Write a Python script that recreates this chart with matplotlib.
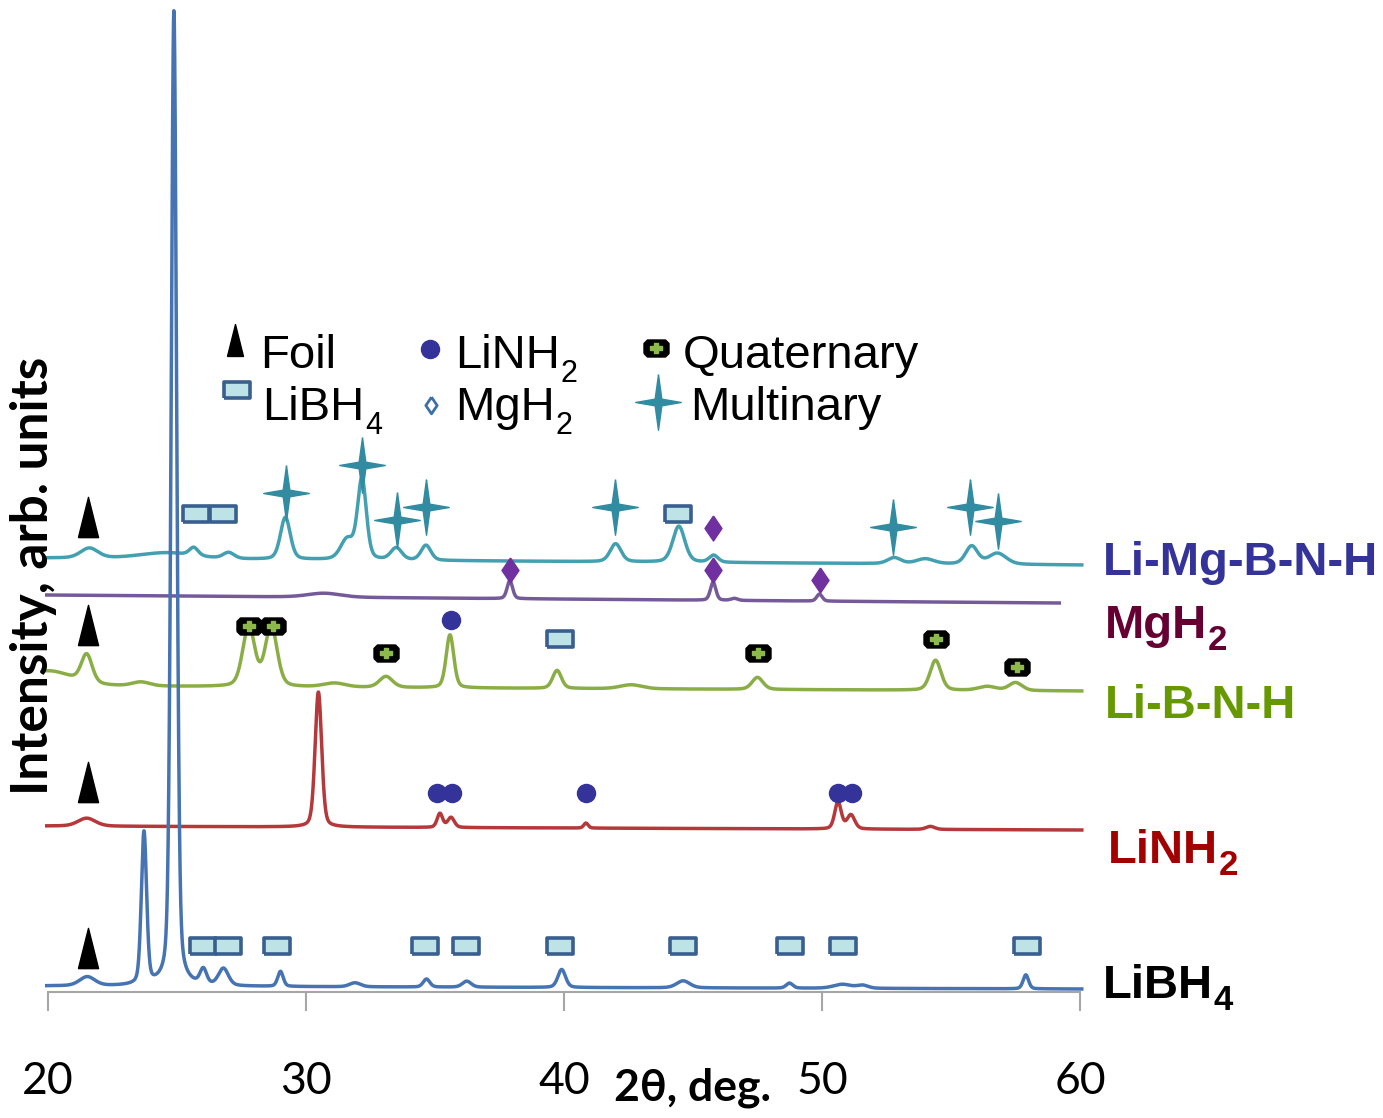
import numpy as np
import matplotlib.pyplot as plt
from matplotlib.path import Path

# ---- scans: baseline (start, end) and peak tables (2theta, height, fwhm) ----
libh4_base = (6, 3)
libh4_pos = [21.52, 23.72, 24.88, 26.02, 26.8, 29.01, 31.9, 34.67, 36.23, 39.91, 44.62, 48.74, 50.79, 51.57, 57.9]
libh4_amp = [9, 152, 975, 15, 17, 15, 4, 8, 6, 18, 7, 5, 4, 3, 14]
libh4_w = [0.7, 0.24, 0.25, 0.3, 0.45, 0.25, 0.5, 0.3, 0.4, 0.35, 0.6, 0.3, 0.8, 0.5, 0.25]

linh2_base = (166, 162)
linh2_pos = [21.5, 30.48, 35.19, 35.62, 40.85, 50.62, 51.12, 54.2]
linh2_amp = [8, 135, 14, 10, 5, 27, 14, 3]
linh2_w = [0.8, 0.3, 0.25, 0.3, 0.2, 0.3, 0.35, 0.4]

libnh_base = (306, 301)
libnh_pos = [20.0, 21.5, 23.6, 27.78, 28.65, 31.1, 33.1, 35.58, 39.73, 42.6, 47.5, 54.4, 56.4, 57.5]
libnh_amp = [15, 28, 4, 60, 60, 4, 11, 53, 18, 4, 12, 30, 4, 8]
libnh_w = [2.2, 0.5, 0.8, 0.55, 0.55, 1.0, 0.6, 0.35, 0.4, 1.0, 0.5, 0.5, 0.8, 0.6]

mgh2_base = (397, 389)
mgh2_end = 59.2
mgh2_pos = [30.7, 37.9, 45.78, 46.6, 49.9]
mgh2_amp = [4, 18, 18, 2, 7]
mgh2_w = [1.5, 0.25, 0.25, 0.3, 0.25]

limg_base = (434, 427)
limg_pos = [21.6, 24.6, 25.65, 27.0, 29.2, 31.6, 32.17, 33.5, 34.65, 42.0, 44.45, 45.8, 52.8, 54.0, 55.8, 56.8]
limg_amp = [10, 6, 8, 6, 42, 20, 80, 12, 15, 18, 36, 7, 6, 5, 18, 11]
limg_w = [0.8, 2.5, 0.4, 0.5, 0.45, 0.6, 0.4, 0.5, 0.45, 0.5, 0.55, 0.4, 0.6, 0.8, 0.55, 0.8]

# ---- phase markers (2theta, height) ----
foil_x = [21.55, 21.55, 21.55, 21.55]
foil_y = [475, 367, 210, 44]
rect_x = [25.74, 26.78, 44.42, 39.84, 26.0, 26.97, 28.88, 34.61, 36.2, 39.84, 44.61, 48.76, 50.81, 57.95]
rect_y = [478, 478, 478, 353, 46, 46, 46, 46, 46, 46, 46, 46, 46, 46]
circ_x = [35.62, 35.06, 35.66, 40.85, 50.62, 51.16]
circ_y = [372, 199, 199, 199, 199, 199]
quat_x = [27.79, 28.72, 33.1, 47.52, 54.42, 57.56]
quat_y = [366, 366, 339, 339, 353, 325]
star_x = [29.22, 32.17, 33.53, 34.65, 41.98, 52.75, 55.74, 56.82]
star_y = [499, 527, 472, 485, 485, 465, 485, 471]
diam_x = [37.91, 45.78, 45.78, 49.92]
diam_y = [422, 422, 464, 412]


def scan(x, base, pos, amp, w, eta=0.3):
    y = base[0] + (base[1] - base[0]) * (x - x[0]) / (x[-1] - x[0])
    for p, a, f in zip(pos, amp, w):
        g = np.exp(-4 * np.log(2) * ((x - p) / f) ** 2)
        l = 1 / (1 + (2 * (x - p) / f) ** 2)
        y = y + a * ((1 - eta) * g + eta * l)
    return y


x = np.linspace(19.95, 60.07, 8000)
x_mg = x[x <= mgh2_end]

# marker shapes
tri = Path([(-0.25, -0.5), (0.25, -0.5), (0, 0.5), (-0.25, -0.5)])
box = Path([(-0.5, -0.32), (0.5, -0.32), (0.5, 0.32), (-0.5, 0.32), (-0.5, -0.32)])
dia = Path([(0, 0.5), (0.34, 0), (0, -0.5), (-0.34, 0), (0, 0.5)])
star = Path([(0, 0.5), (0.06, 0.06), (0.41, 0), (0.06, -0.06), (0, -0.5),
             (-0.06, -0.06), (-0.41, 0), (-0.06, 0.06), (0, 0.5)])
octo = Path([(-0.5, -0.2), (-0.5, 0.2), (-0.36, 0.34), (0.36, 0.34), (0.5, 0.2),
             (0.5, -0.2), (0.36, -0.34), (-0.36, -0.34), (-0.5, -0.2)])
plus = Path([(-0.5, -0.13), (-0.15, -0.13), (-0.15, -0.4), (0.15, -0.4), (0.15, -0.13),
             (0.5, -0.13), (0.5, 0.13), (0.15, 0.13), (0.15, 0.4), (-0.15, 0.4),
             (-0.15, 0.13), (-0.5, 0.13), (-0.5, -0.13)])

c_libh4 = '#4673B1'
c_linh2 = '#B5383A'
c_libnh = '#8AAE45'
c_mgh2 = '#755A99'
c_limg = '#43A0B0'
c_star = '#318BA1'
c_rect_e = '#3A5F8F'
c_rect_f = '#BDE3E6'

fig = plt.figure(figsize=(13.83, 11.18), dpi=100)
ax = fig.add_axes([48 / 1383, 126 / 1118, 1032 / 1383, 992 / 1118])
ax.set_xlim(20, 60)
ax.set_ylim(0, 992)
renderer = fig.canvas.get_renderer()


def sub_text(x0, y0, main, sub, size, subsize, drop, **kw):
    # main text plus a lowered subscript placed right after it
    t = ax.text(x0, y0, main, fontsize=size, va='baseline', ha='left', clip_on=False, **kw)
    bb = t.get_window_extent(renderer)
    xr = ax.transData.inverted().transform((bb.x1, 0))[0]
    ax.annotate(sub, (xr, y0), xytext=(0.5, -drop * 0.72), textcoords='offset points',
                fontsize=subsize, va='baseline', ha='left', annotation_clip=False, **kw)


lw = 2.5
ax.plot(x, scan(x, limg_base, limg_pos, limg_amp, limg_w), color=c_limg, lw=lw, clip_on=False, zorder=2)
ax.plot(x_mg, scan(x_mg, mgh2_base, mgh2_pos, mgh2_amp, mgh2_w), color=c_mgh2, lw=lw, clip_on=False, zorder=2)
ax.plot(x, scan(x, libnh_base, libnh_pos, libnh_amp, libnh_w), color=c_libnh, lw=lw, clip_on=False, zorder=2)
ax.plot(x, scan(x, linh2_base, linh2_pos, linh2_amp, linh2_w), color=c_linh2, lw=lw, clip_on=False, zorder=2)
ax.plot(x, scan(x, libh4_base, libh4_pos, libh4_amp, libh4_w), color=c_libh4, lw=lw, clip_on=False, zorder=3)

# phase markers
ax.plot(foil_x, foil_y, ls='none', marker=tri, ms=29, color='black', zorder=5)
ax.plot(rect_x, rect_y, ls='none', marker=box, ms=19, mfc=c_rect_f, mec=c_rect_e, mew=2.6, zorder=5)
ax.plot(circ_x, circ_y, ls='none', marker='o', ms=13, color='#333399', zorder=5)
ax.plot(quat_x, quat_y, ls='none', marker=octo, ms=18, color='black', zorder=5)
ax.plot(quat_x, quat_y, ls='none', marker=plus, ms=9, color='#8DB84A', zorder=6)
ax.plot(star_x, star_y, ls='none', marker=star, ms=40, color=c_star, zorder=5)
ax.plot(diam_x, diam_y, ls='none', marker=dia, ms=18, color='#7030A0', zorder=5)

# legend block
lf = dict(family='Liberation Sans')
ax.plot([27.25], [652], marker=tri, ms=23, color='black', clip_on=False)
ax.text(28.22, 624, 'Foil', fontsize=34, va='baseline', **lf)
ax.plot([34.8], [643], marker='o', ms=13, color='#333399', clip_on=False)
sub_text(35.78, 624, 'LiNH', '2', 34, 22, 14, **lf)
ax.plot([43.57], [644], marker=octo, ms=18, color='black', clip_on=False)
ax.plot([43.57], [644], marker=plus, ms=9, color='#8DB84A', clip_on=False)
ax.text(44.61, 624, 'Quaternary', fontsize=34, va='baseline', **lf)
ax.plot([27.33], [602], marker=box, ms=19, mfc=c_rect_f, mec=c_rect_e, mew=2.6, clip_on=False)
sub_text(28.3, 572, 'LiBH', '4', 34, 22, 14, **lf)
ax.plot([34.84], [587], marker=dia, ms=12, mfc='white', mec='#3F6FA8', mew=2, clip_on=False)
sub_text(35.78, 572, 'MgH', '2', 34, 22, 14, **lf)
ax.plot([43.64], [590], marker=star, ms=40, color=c_star, clip_on=False)
ax.text(44.88, 572, 'Multinary', fontsize=34, va='baseline', **lf)

# sample labels
sf = dict(family='Liberation Sans', fontweight='bold')
ax.text(60.89, 417, 'Li-Mg-B-N-H', fontsize=34, va='baseline', color='#333399', clip_on=False, **sf)
sub_text(60.95, 354, 'MgH', '2', 34, 25, 12, color='#660033', **sf)
ax.text(60.95, 274, 'Li-B-N-H', fontsize=34, va='baseline', color='#669900', clip_on=False, **sf)
sub_text(61.09, 129, 'LiNH', '2', 34, 25, 12, color='#A30000', **sf)
sub_text(60.89, -6, 'LiBH', '4', 34, 25, 12, color='black', **sf)

# axes styling
for s in ['left', 'right', 'top']:
    ax.spines[s].set_visible(False)
ax.spines['bottom'].set_color('#A6A6A6')
ax.spines['bottom'].set_linewidth(1.5)
ax.set_yticks([])
ax.set_xticks([20, 30, 40, 50, 60])
ax.tick_params(axis='x', direction='out', length=14, width=1.5, color='#A6A6A6',
               labelsize=32, pad=36)
for t in ax.get_xticklabels():
    t.set_fontfamily('Lato')

ax.text(45.0, -108, '2θ, deg.', fontsize=32, family='Lato', fontweight='bold',
        ha='center', va='baseline', clip_on=False)
fig.text(34 / 1383, 1 - 576 / 1118, 'Intensity, arb. units', fontsize=37, family='Lato',
         fontweight='bold', rotation=90, ha='center', va='center')

fig.savefig('out.png', dpi=100)
